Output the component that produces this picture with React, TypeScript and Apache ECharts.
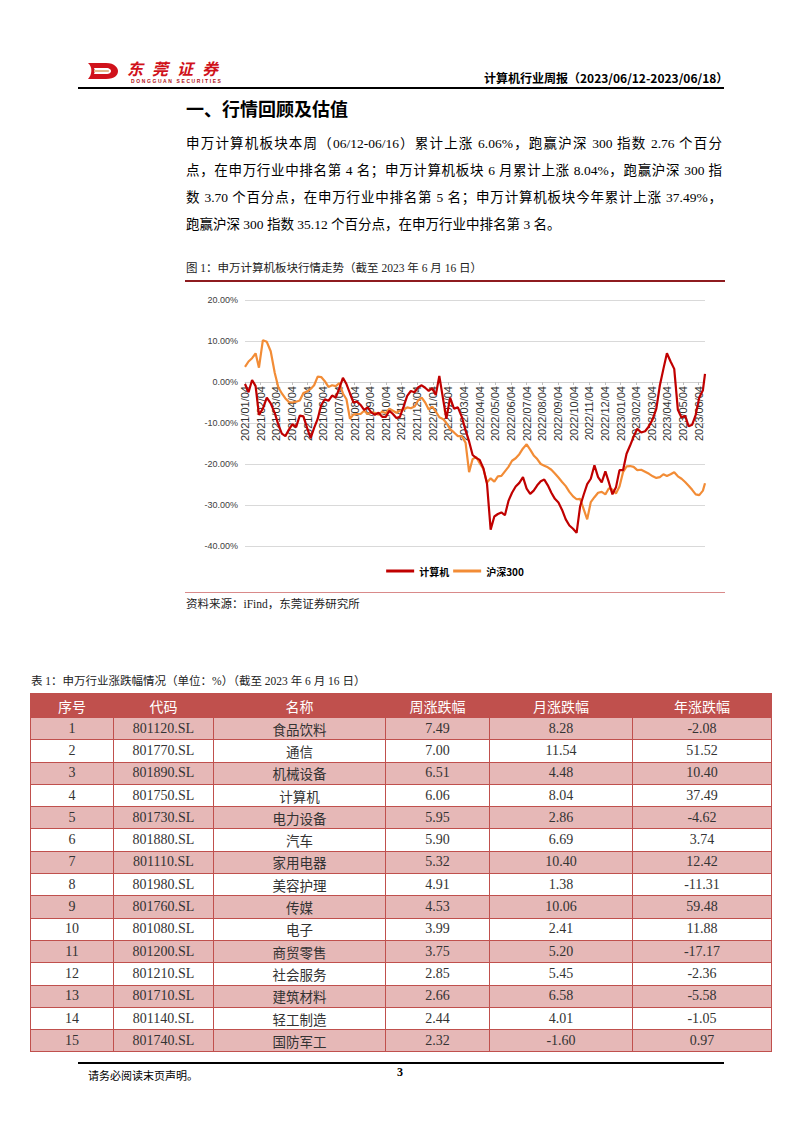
import React, { useEffect, useRef } from 'react';
import * as echarts from 'echarts';

// ---------- chart data ----------
const seriesNames = ['计算机', '沪深300'];
const monthLabels = [
  '2021/01/04', '2021/02/04', '2021/03/04', '2021/04/04', '2021/05/04', '2021/06/04',
  '2021/07/04', '2021/08/04', '2021/09/04', '2021/10/04', '2021/11/04', '2021/12/04',
  '2022/01/04', '2022/02/04', '2022/03/04', '2022/04/04', '2022/05/04', '2022/06/04',
  '2022/07/04', '2022/08/04', '2022/09/04', '2022/10/04', '2022/11/04', '2022/12/04',
  '2023/01/04', '2023/02/04', '2023/03/04', '2023/04/04', '2023/05/04', '2023/06/04',
];
const startDate = '2021-01-04';
const lastDate = '2023-06-16';
const weekCount = 128;

// weekly readings (%), Mondays from 2021-01-04, last value = 2023-06-16
const computerVals = [
  -0.5, -2.5, 0.5, -1, -8, -6.5, -3.8, -5.2, -7.6, -10.4,
  -12.6, -13.2, -11.6, -10.3, -11, -8.2, -8.4, -11.2, -13.7, -11.2,
  -9, -5.6, -4.2, -4.6, -3.3, -3.8, -1.5, 1, -0.5, -2.8,
  -5, -4.8, -5.6, -6.8, -6.2, -7.4, -8, -7.5, -8.5, -8.5,
  -7, -7.8, -8.8, -8.5, -6, -3.4, -2.2, -2.5, -1.3, -0.8,
  -1.4, -2.2, -1.5, -3.2, 1.5, -3.8, -9, -3.8, -6.5, -6.2,
  -8.5, -11.8, -14.5, -17.8, -18.5, -19, -21, -24.8, -36, -32.8,
  -32.2, -31.8, -32.5, -29, -27, -25.5, -24.6, -23.2, -26, -27.3,
  -26.5, -25.2, -24.2, -23.8, -25.2, -27, -28.5, -29.4, -31.2, -33.5,
  -35, -35.8, -36.8, -30.3, -27.5, -24.9, -23.6, -20.3, -23.2, -24.5,
  -21.8, -24.5, -27.4, -25.7, -21.5, -21.5, -17.5, -15.5, -13.3, -11.4,
  -12.3, -12, -10.8, -9, -6.5, -0.8, 3.2, 7, 5, 3.2,
  -6.8, -8.7, -8.2, -10.8, -10.4, -8, -3.8, -2,
  2,
];
const hs300Vals = [
  3.7, 5, 5.8, 7, 3.5, 10.2, 9.8, 7.5, 2.2, -1.3,
  -2.8, -4, -4.9, -5, -4.8, -4.5, -2.7, -2.3, -1.7, -0.8,
  1.3, 1.2, 0.2, -1.2, -0.8, -1, -0.3, -2.8, -4.2, -9,
  -7.9, -7.8, -7.8, -7, -7.8, -7.4, -7.5, -8, -7.2, -7.6,
  -6.5, -7, -7.5, -7, -6.7, -6.2, -6.4, -6, -4.5, -3.8,
  -5, -6.7, -6, -7.2, -8.6, -9, -10, -11.5, -12.3, -13.2,
  -13.2, -14.8, -22, -18.8, -18.3, -19.8, -21.2, -24.5, -23.5, -24.3,
  -23, -22.9, -21.8, -20.7, -19.2, -18.6, -17.6, -16.2, -15.2, -16.5,
  -17.9, -18.8, -20, -20.4, -20.8, -21.4, -22.3, -23.3, -24.4, -25.4,
  -26.8, -27.9, -28.6, -28.5, -31, -33.5, -29.3, -28.1, -27, -26.8,
  -27.4, -25.9, -26.2, -27.2, -25.5, -22, -20.6, -20.5, -20.7, -21.5,
  -21.4, -21.9, -22.4, -23, -23.4, -23.2, -22.5, -22.9, -22.5, -22,
  -23, -23.6, -24.4, -25.3, -26.3, -27.4, -27.6, -26.5,
  -24.7,
];

// ---------- table data ----------
const tableHeaders = ['序号', '代码', '名称', '周涨跌幅', '月涨跌幅', '年涨跌幅'];
const ranks = [1, 2, 3, 4, 5, 6, 7, 8, 9, 10, 11, 12, 13, 14, 15];
const codes = ['801120.SL', '801770.SL', '801890.SL', '801750.SL', '801730.SL', '801880.SL', '801110.SL', '801980.SL', '801760.SL', '801080.SL', '801200.SL', '801210.SL', '801710.SL', '801140.SL', '801740.SL'];
const industryNames = ['食品饮料', '通信', '机械设备', '计算机', '电力设备', '汽车', '家用电器', '美容护理', '传媒', '电子', '商贸零售', '社会服务', '建筑材料', '轻工制造', '国防军工'];
const weekChg = [7.49, 7.0, 6.51, 6.06, 5.95, 5.9, 5.32, 4.91, 4.53, 3.99, 3.75, 2.85, 2.66, 2.44, 2.32];
const monthChg = [8.28, 11.54, 4.48, 8.04, 2.86, 6.69, 10.4, 1.38, 10.06, 2.41, 5.2, 5.45, 6.58, 4.01, -1.6];
const yearChg = [-2.08, 51.52, 10.4, 37.49, -4.62, 3.74, 12.42, -11.31, 59.48, 11.88, -17.17, -2.36, -5.58, -1.05, 0.97];

const paraLines = [
  '申万计算机板块本周（06/12-06/16）累计上涨 6.06%，跑赢沪深 300 指数 2.76 个百分',
  '点，在申万行业中排名第 4 名；申万计算机板块 6 月累计上涨 8.04%，跑赢沪深 300 指',
  '数 3.70 个百分点，在申万行业中排名第 5 名；申万计算机板块今年累计上涨 37.49%，',
  '跑赢沪深 300 指数 35.12 个百分点，在申万行业中排名第 3 名。',
];

// ---------- helpers ----------
function buildDates(): string[] {
  const [y, m, d] = startDate.split('-').map(Number);
  const t0 = Date.UTC(y, m - 1, d);
  const out: string[] = [];
  for (let i = 0; i < weekCount; i++) out.push(new Date(t0 + i * 7 * 86400000).toISOString().slice(0, 10));
  out.push(lastDate);
  return out;
}
function monthPos(s: string): number {
  const [y, m, d] = s.split('-').map(Number);
  const dim = new Date(Date.UTC(y, m, 0)).getUTCDate();
  return (y - 2021) * 12 + (m - 1) + (d - 4) / dim;
}

const SERIF = '"Liberation Serif", "Noto Sans CJK SC", serif';
const SANS = '"Noto Sans CJK SC", "Noto Sans", sans-serif';
const RED = '#C0504D';

const Y_MIN = -40;
const Y_MAX = 20;
const GRID_H = 246;

function Chart() {
  const ref = useRef<HTMLDivElement>(null);
  useEffect(() => {
    if (!ref.current) return;
    const chart = echarts.init(ref.current, undefined, { renderer: 'svg' });
    const dates = buildDates();
    const maxX = monthPos(lastDate);
    // distance from the grid bottom to the zero line, so the date labels sit on y = 0
    const zeroOffset = (-Y_MIN / (Y_MAX - Y_MIN)) * GRID_H;
    chart.setOption({
      animation: false,
      backgroundColor: 'transparent',
      grid: { left: 60, right: 20, top: 15, height: GRID_H },
      legend: {
        data: seriesNames,
        top: 276,
        left: 'center',
        icon: 'rect',
        itemWidth: 28,
        itemHeight: 3,
        itemGap: 4,
        textStyle: { fontSize: 10, fontWeight: 'bold', color: '#000', fontFamily: SANS },
      },
      xAxis: {
        type: 'value',
        min: 0,
        max: maxX,
        interval: 1,
        position: 'bottom',
        offset: -zeroOffset,
        axisLine: { show: true, onZero: false, lineStyle: { color: '#d0d0d0', width: 1 } },
        axisTick: { show: true, length: 3, lineStyle: { color: '#bfbfbf' } },
        splitLine: { show: false },
        axisLabel: {
          rotate: 90,
          fontSize: 11,
          color: '#333',
          margin: 4,
          fontFamily: '"Liberation Sans", sans-serif',
          showMaxLabel: false,
          formatter: (v: number) => (Number.isInteger(v) && monthLabels[v] ? monthLabels[v] : ''),
        },
      },
      yAxis: {
        type: 'value',
        min: Y_MIN,
        max: Y_MAX,
        interval: 10,
        axisLine: { show: false },
        axisTick: { show: false },
        splitLine: { lineStyle: { color: '#d9d9d9', width: 1 } },
        axisLabel: {
          fontSize: 9,
          color: '#404040',
          margin: 7,
          fontFamily: '"Liberation Sans", sans-serif',
          formatter: (v: number) => v.toFixed(2) + '%',
        },
      },
      series: [
        {
          name: seriesNames[0],
          type: 'line',
          z: 3,
          showSymbol: false,
          symbol: 'none',
          lineStyle: { color: '#C00000', width: 2.2 },
          itemStyle: { color: '#C00000' },
          data: dates.map((d, i) => [monthPos(d), computerVals[i]]),
        },
        {
          name: seriesNames[1],
          type: 'line',
          z: 2,
          showSymbol: false,
          symbol: 'none',
          lineStyle: { color: '#F28C36', width: 2.2 },
          itemStyle: { color: '#F28C36' },
          data: dates.map((d, i) => [monthPos(d), hs300Vals[i]]),
        },
      ],
    });
    return () => chart.dispose();
  }, []);
  return <div ref={ref} style={{ position: 'absolute', left: 185, top: 285, width: 540, height: 300 }} />;
}

export default function App() {
  useEffect(() => {
    document.body.style.margin = '0';
  }, []);
  const colW = [83, 100, 172, 104, 143, 139];
  const abs = (l: number, t: number, extra: React.CSSProperties = {}): React.CSSProperties => ({
    position: 'absolute', left: l, top: t, ...extra,
  });
  return (
    <div style={{ position: 'absolute', left: 0, top: 0, width: 802, height: 1133, background: '#fff', overflow: 'hidden' }}>
      {/* header logo */}
      <svg style={abs(84, 60)} width={36} height={22} viewBox="0 0 36 22">
        <path d="M4 3 H22 C31 3 34 8 34 11 C34 15 31 19 22 19 H4 C8 15 9 7 4 3 Z" fill="#D0121B" />
        <path d="M10 8 H22 C26 8 27 10 27 11 C27 12.5 26 14 22 14 H10 C11 12 11 10 10 8 Z" fill="#fff" />
        <path d="M10 10 H24 C25.5 10 25.5 12 24 12 H10 Z" fill="#E2B98B" />
      </svg>
      <div style={abs(127, 60, { fontSize: 16, fontWeight: 'bold', color: '#D0121B', letterSpacing: 9, fontFamily: SANS, lineHeight: '16px', fontStyle: 'italic', whiteSpace: 'nowrap' })}>东莞证券</div>
      <div style={abs(131, 78, { fontSize: 5, color: '#B01018', letterSpacing: 1.6, fontFamily: '"Liberation Sans", sans-serif', fontWeight: 'bold', lineHeight: '6px', whiteSpace: 'nowrap' })}>DONGGUAN SECURITIES</div>
      <div style={abs(484, 70, { fontSize: 12, fontWeight: 'bold', color: '#000', fontFamily: SANS, lineHeight: '16px', whiteSpace: 'nowrap' })}>计算机行业周报（2023/06/12-2023/06/18）</div>
      <div style={abs(78, 87, { width: 646, height: 1.5, background: '#000' })} />

      {/* title */}
      <div style={abs(186, 95, { fontSize: 18, fontWeight: 'bold', color: '#000', fontFamily: SANS, lineHeight: '26px' })}>一、行情回顾及估值</div>

      {/* paragraph */}
      {paraLines.map((t, i) => (
        <div key={i} style={abs(186, 131 + i * 27, {
          width: 536, fontSize: 13.5, color: '#000', fontFamily: SERIF, lineHeight: '26px', whiteSpace: 'nowrap',
          textAlign: i < 3 ? 'justify' : 'left', textAlignLast: i < 3 ? 'justify' : 'left',
        })}>{t}</div>
      ))}

      {/* figure caption */}
      <div style={abs(186, 260, { fontSize: 11.5, color: '#222', fontFamily: SERIF, lineHeight: '16px', whiteSpace: 'nowrap' })}>图 1：申万计算机板块行情走势（截至 2023 年 6 月 16 日）</div>
      <div style={abs(185, 280, { width: 540, height: 1.5, background: '#8E1B1F' })} />

      <Chart />

      <div style={abs(185, 592, { width: 540, height: 1, background: '#D98A8A' })} />
      <div style={abs(186, 596, { fontSize: 11.5, color: '#222', fontFamily: SERIF, lineHeight: '16px', whiteSpace: 'nowrap' })}>资料来源：iFind，东莞证券研究所</div>

      {/* table caption */}
      <div style={abs(31, 673, { fontSize: 11.5, color: '#222', fontFamily: SERIF, lineHeight: '16px', whiteSpace: 'nowrap' })}>表 1：申万行业涨跌幅情况（单位：%）（截至 2023 年 6 月 16 日）</div>

      {/* table */}
      <table style={{ position: 'absolute', left: 30, top: 693, width: 741, borderCollapse: 'collapse', tableLayout: 'fixed' }}>
        <colgroup>
          {colW.map((w, i) => <col key={i} style={{ width: w }} />)}
        </colgroup>
        <thead>
          <tr style={{ height: 24, background: RED }}>
            {tableHeaders.map((h, i) => (
              <th key={i} style={{ color: '#fff', fontWeight: 'normal', fontSize: 14, fontFamily: SANS, padding: 0, border: `1px solid ${RED}`, textAlign: 'center', lineHeight: '22px' }}>{h}</th>
            ))}
          </tr>
        </thead>
        <tbody>
          {ranks.map((r, i) => {
            const cells = [String(r), codes[i], industryNames[i], weekChg[i].toFixed(2), monthChg[i].toFixed(2), yearChg[i].toFixed(2)];
            return (
              <tr key={r} style={{ height: 22.3, background: i % 2 === 0 ? '#E6B8B7' : '#fff' }}>
                {cells.map((c, j) => (
                  <td key={j} style={{
                    padding: 0, border: `1px solid ${RED}`, textAlign: 'center', color: '#333',
                    fontSize: j === 2 ? 13.5 : 14, fontFamily: j === 2 ? SANS : SERIF, lineHeight: '20px',
                  }}>{c}</td>
                ))}
              </tr>
            );
          })}
        </tbody>
      </table>

      {/* footer */}
      <div style={abs(78, 1062, { width: 646, height: 1.5, background: '#000' })} />
      <div style={abs(88, 1067, { fontSize: 11, color: '#000', fontFamily: SANS, lineHeight: '16px', whiteSpace: 'nowrap' })}>请务必阅读末页声明。</div>
      <div style={abs(397, 1064, { fontSize: 12, fontWeight: 'bold', color: '#000', fontFamily: SERIF, lineHeight: '16px' })}>3</div>
    </div>
  );
}
